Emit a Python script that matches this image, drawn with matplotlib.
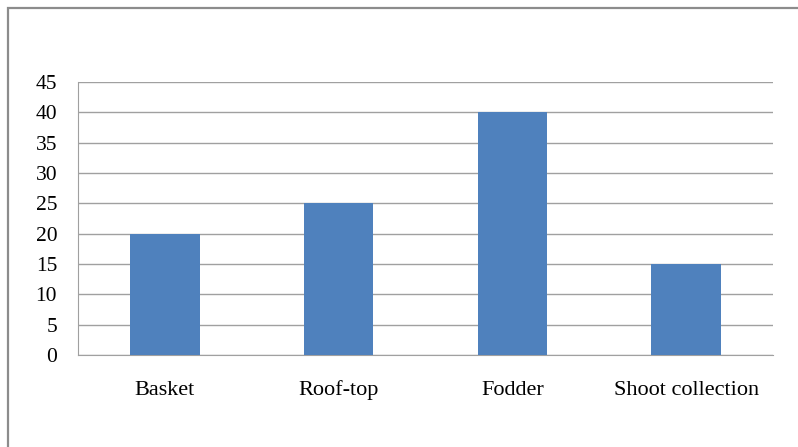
import matplotlib.pyplot as plt
from matplotlib.patches import Rectangle

categories = ['Basket', 'Roof-top', 'Fodder', 'Shoot collection']
values = [20, 25, 40, 15]
yticks = [0, 5, 10, 15, 20, 25, 30, 35, 40, 45]

plt.rcParams['font.family'] = ['Liberation Serif', 'DejaVu Serif']

W, H = 798, 447
fig = plt.figure(figsize=(W / 100, H / 100), dpi=100)

# outer chart border (runs off the right and bottom edge)
fig.patches.append(Rectangle((8 / W, -0.1), 1.1, 1 - 8 / H + 0.1,
                             transform=fig.transFigure, fill=False,
                             edgecolor='#8c8c8c', linewidth=1.6))

ax = fig.add_axes([78 / W, 1 - 355 / H, (773 - 78) / W, (355 - 82) / H])
ax.bar(range(len(categories)), values, width=0.4, color='#4f81bd', zorder=3)
ax.set_xlim(-0.5, len(categories) - 0.5)
ax.set_ylim(0, 45)
ax.set_yticks(yticks)
ax.set_xticks(range(len(categories)))
ax.set_xticklabels(categories, va='baseline')
ax.yaxis.grid(True, color='#a0a0a0', linewidth=1.0, zorder=0)
for s in ['top', 'right']:
    ax.spines[s].set_visible(False)
for s in ['left', 'bottom']:
    ax.spines[s].set_color('#a0a0a0')
ax.tick_params(axis='both', length=0)
ax.tick_params(axis='x', pad=28.5, labelsize=16)
ax.tick_params(axis='y', pad=15, labelsize=15.5)

fig.savefig('out.png', dpi=100)
